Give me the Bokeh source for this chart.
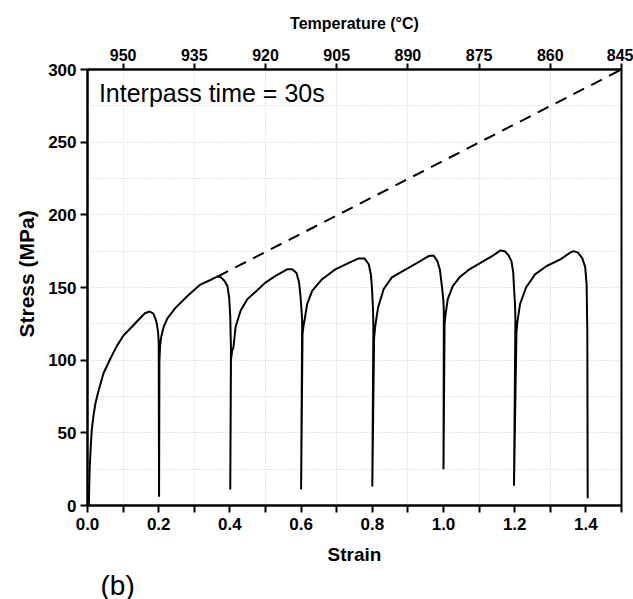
from bokeh.plotting import figure
from bokeh.models import (Range1d, LinearAxis, FixedTicker, Label, Title, NumeralTickFormatter)
from bokeh.embed import file_html
from bokeh.resources import INLINE

# ---- data ----
strain = [0.003, 0.004, 0.006, 0.009, 0.012, 0.017, 0.022, 0.031, 0.045, 0.064, 0.083, 0.101,
          0.125, 0.144, 0.162, 0.175, 0.185, 0.193, 0.198, 0.200, 0.201, 0.202, 0.204,
          0.207, 0.214, 0.225, 0.247, 0.280, 0.317, 0.350, 0.364, 0.375, 0.385, 0.393, 0.398,
          0.401, 0.402, 0.403, 0.401, 0.403, 0.406,
          0.410, 0.416, 0.430, 0.449, 0.472, 0.500, 0.528, 0.561, 0.575, 0.587, 0.594, 0.598,
          0.601, 0.603, 0.600, 0.604, 0.607,
          0.610, 0.617, 0.631, 0.659, 0.696, 0.734, 0.762, 0.778, 0.790, 0.796, 0.799,
          0.802, 0.803, 0.800, 0.805, 0.808,
          0.816, 0.832, 0.855, 0.883, 0.920, 0.958, 0.972, 0.983, 0.990, 0.996,
          1.000, 1.001, 1.000, 1.003, 1.006,
          1.012, 1.026, 1.045, 1.073, 1.111, 1.139, 1.160, 1.172, 1.183, 1.191, 1.196,
          1.198, 1.201, 1.202, 1.198, 1.205, 1.208,
          1.215, 1.232, 1.257, 1.290, 1.328, 1.356, 1.365, 1.378, 1.390, 1.398,
          1.402, 1.404, 1.405]
stress = [0, 3, 25, 40, 52, 62, 70, 79, 91, 101, 110, 117,
          123, 128, 132.5, 133.5, 132, 127, 120, 113, 6, 100, 110,
          116, 123, 129, 136, 144, 152, 155.7, 157.5, 157, 154.5, 151, 143,
          130, 118, 108, 11, 100, 106,
          109, 123, 134, 142, 147, 153.4, 158, 162.5, 162.5, 160, 154, 145,
          135, 127, 11, 118, 124,
          128, 138.6, 147.7, 155.7, 162.5, 167, 170, 170, 166, 159, 150,
          135, 123, 13, 115, 123,
          136, 149, 157, 161, 166, 171.6, 172, 168, 162, 150,
          140, 132, 25, 125, 132,
          142, 151, 157, 162.5, 168, 172, 175.5, 175, 172, 168, 160,
          150, 138, 128, 13.6, 120, 127,
          138.6, 150, 159, 164.8, 169.3, 174, 175, 174, 170, 164,
          152, 120, 5]

trend_strain = [0.365, 1.5]
trend_stress = [157.5, 300]

strain_ticks = [0.0, 0.2, 0.4, 0.6, 0.8, 1.0, 1.2, 1.4]
strain_minor = [0.1, 0.3, 0.5, 0.7, 0.9, 1.1, 1.3, 1.5]
stress_ticks = [0, 50, 100, 150, 200, 250, 300]
stress_grid = [25, 50, 75, 100, 125, 150, 175, 200, 225, 250, 275]
temp_ticks = [950, 935, 920, 905, 890, 875, 860, 845]
temp_range = (957.5, 845)

FONT = "Liberation Sans"

p = figure(frame_width=534, frame_height=436,
           x_range=Range1d(0, 1.5), y_range=Range1d(0, 300),
           output_backend="svg", toolbar_location=None,
           min_border_left=87, min_border_right=12, min_border_top=69, min_border_bottom=94,
           x_axis_location=None, y_axis_location=None)
p.background_fill_color = "white"
p.border_fill_color = "white"
p.outline_line_color = "black"
p.outline_line_width = 2

p.extra_x_ranges = {"temp": Range1d(*temp_range)}

def style_axis(ax, label_size="17px"):
    ax.axis_line_width = 2
    ax.major_tick_line_width = 2
    ax.minor_tick_line_width = 2
    ax.major_tick_out = 7
    ax.major_tick_in = 0
    ax.major_label_text_font = FONT
    ax.major_label_text_font_style = "bold"
    ax.major_label_text_font_size = label_size
    ax.major_label_text_color = "black"
    ax.axis_label_text_font = FONT
    ax.axis_label_text_font_style = "bold"
    ax.axis_label_text_color = "black"

xb = LinearAxis(axis_label="Strain", ticker=FixedTicker(ticks=strain_ticks, minor_ticks=strain_minor),
                formatter=NumeralTickFormatter(format="0.0"))
style_axis(xb)
xb.minor_tick_out = 7
xb.minor_tick_in = 0
xb.axis_label_text_font_size = "19px"
xb.axis_label_standoff = 11
xb.major_label_standoff = 5
p.add_layout(xb, "below")

p.add_layout(Title(text="(b)", align="left", offset=13, standoff=0,
                   text_font=FONT, text_font_size="28px", text_font_style="normal",
                   text_color="black"), "below")

yl = LinearAxis(ticker=FixedTicker(ticks=stress_ticks))
style_axis(yl)
yl.minor_tick_out = 0
yl.minor_tick_in = 0
yl.major_label_standoff = 4
p.add_layout(yl, "left")

p.add_layout(Title(text="Stress (MPa)", align="left", offset=168, standoff=16,
                   text_font=FONT, text_font_size="21px", text_font_style="bold",
                   text_color="black"), "left")

xt = LinearAxis(x_range_name="temp", axis_label="Temperature (°C)",
                ticker=FixedTicker(ticks=temp_ticks))
style_axis(xt, "16px")
xt.major_tick_out = 6
xt.minor_tick_out = 0
xt.minor_tick_in = 0
xt.axis_label_text_font_size = "16px"
xt.axis_label_standoff = 14
xt.major_label_standoff = 3
p.add_layout(xt, "above")

p.xgrid.ticker = FixedTicker(ticks=strain_minor)
p.ygrid.ticker = FixedTicker(ticks=stress_grid)
for g in (p.xgrid, p.ygrid):
    g.grid_line_color = "#c8c8c8"
    g.grid_line_dash = "1 2"
    g.grid_line_width = 1

p.line(trend_strain, trend_stress, line_color="black", line_width=2, line_dash="12 8")
p.line(strain, stress, line_color="black", line_width=2)

p.add_layout(Label(x=0.032, y=284, text="Interpass time = 30s", text_baseline="middle",
                   text_font=FONT, text_font_size="25px", text_color="black"))

open("out.html", "w").write(file_html(p, INLINE))
